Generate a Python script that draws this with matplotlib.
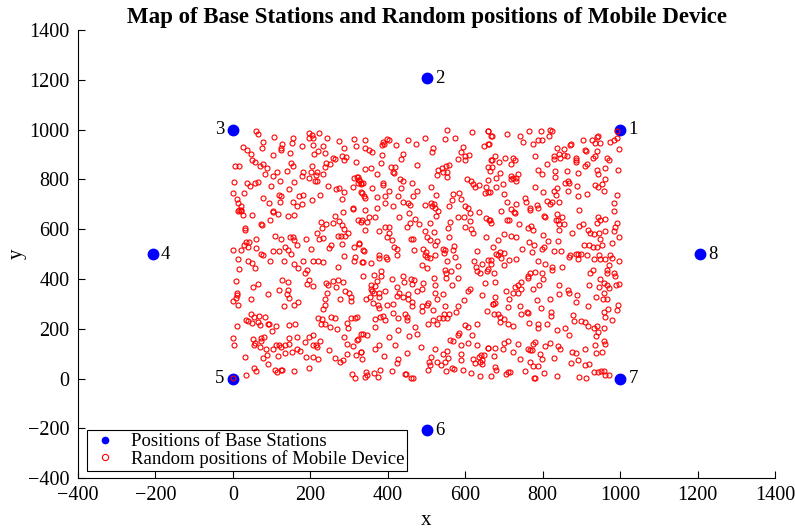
import numpy as np
import matplotlib
matplotlib.use('Agg')
import matplotlib.pyplot as plt

# Base station positions and their numbers
bs_x = [1000, 500, 0, -207, 0, 500, 1000, 1207]
bs_y = [1000, 1207, 1000, 500, 0, -207, 0, 500]
bs_labels = ['1', '2', '3', '4', '5', '6', '7', '8']
# which side of the dot the number sits on
bs_side = ['r', 'r', 'l', 'r', 'l', 'r', 'r', 'r']

# Mobile device positions (x, y)
mobile_xy = [
    (61, 993), (65, 982), (107, 971), (156, 966), (152, 948), (127, 944), (196, 987), (204, 979),
    (196, 968), (208, 968), (223, 985), (242, 968), (275, 955), (313, 963), (77, 952), (27, 931),
    (37, 920), (75, 926), (124, 926), (124, 920), (178, 935), (208, 939), (232, 936), (219, 915),
    (210, 902), (286, 926), (318, 935), (47, 902), (103, 897), (147, 906), (237, 907), (283, 896),
    (292, 891), (259, 888), (264, 883), (287, 880), (49, 877), (56, 871), (78, 861), (70, 853),
    (87, 845), (151, 868), (156, 853), (240, 867), (252, 861), (237, 851), (204, 856), (318, 872),
    (6, 855), (15, 853), (113, 832), (140, 835), (180, 832), (201, 832), (216, 832), (232, 824),
    (214, 818), (178, 814), (82, 824), (103, 813), (196, 808), (314, 804), (321, 810), (325, 797),
    (323, 784), (309, 770), (332, 784), (2, 788), (37, 786), (44, 774), (58, 785), (65, 789),
    (98, 774), (121, 794), (159, 789), (213, 792), (216, 794), (245, 774), (266, 761), (275, 764),
    (288, 748), (144, 761), (1, 745), (30, 745), (10, 721), (13, 707), (20, 693), (15, 677),
    (22, 674), (77, 725), (94, 706), (118, 738), (124, 733), (121, 711), (156, 711), (170, 733),
    (182, 737), (165, 693), (178, 703), (204, 717), (225, 738), (283, 721), (309, 687), (309, 682),
    (330, 748), (104, 671), (285, 669),
    (554, 998), (618, 990), (659, 995), (666, 976), (340, 958), (387, 952), (390, 942), (397, 963),
    (402, 958), (385, 939), (421, 939), (452, 958), (473, 944), (497, 966), (547, 963), (573, 966),
    (595, 931), (648, 936), (660, 942), (342, 926), (351, 920), (359, 910), (385, 899), (438, 904),
    (435, 883), (516, 926), (514, 910), (588, 912), (600, 896), (609, 899), (580, 883), (599, 877),
    (666, 880), (382, 867), (475, 859), (342, 843), (356, 848), (409, 851), (418, 851), (414, 832),
    (416, 827), (530, 840), (540, 845), (550, 856), (559, 859), (528, 818), (542, 832), (552, 829),
    (552, 810), (664, 835), (371, 821), (323, 810), (325, 797), (332, 781), (335, 784), (431, 802),
    (438, 794), (462, 784), (605, 802), (616, 792), (621, 781), (635, 776), (626, 770), (388, 786),
    (387, 776), (359, 765), (433, 765), (511, 768), (654, 768), (664, 749), (652, 744), (333, 746),
    (338, 733), (340, 727), (402, 754), (475, 754), (371, 730), (392, 733), (426, 735), (464, 733),
    (438, 711), (392, 706), (414, 693), (452, 706), (457, 698), (497, 698), (511, 706), (514, 695),
    (519, 701), (524, 738), (569, 741), (585, 746), (566, 717), (588, 722), (523, 687), (559, 695),
    (600, 693), (607, 685), (371, 687), (340, 677), (530, 674), (636, 671),
    (659, 995), (668, 976), (707, 982), (742, 974), (764, 995), (795, 993), (819, 998), (823, 993),
    (817, 976), (750, 950), (774, 942), (788, 958), (798, 958), (662, 942), (874, 942), (904, 958),
    (928, 960), (943, 976), (941, 971), (947, 947), (936, 947), (974, 952), (983, 960), (991, 966),
    (993, 993), (997, 923), (838, 926), (855, 923), (871, 939), (909, 920), (912, 915), (941, 915),
    (935, 893), (931, 888), (828, 893), (828, 883), (842, 902), (854, 899), (862, 893), (845, 885),
    (886, 888), (886, 880), (886, 872), (781, 893), (676, 896), (702, 885), (724, 888), (728, 877),
    (668, 877), (688, 869), (718, 861), (811, 864), (914, 864), (910, 853), (967, 885), (971, 880),
    (659, 851), (668, 851), (788, 837), (798, 821), (831, 835), (862, 835), (890, 827), (940, 840),
    (943, 821), (962, 845), (995, 840), (690, 827), (736, 824), (680, 808), (718, 813), (723, 805),
    (730, 808), (719, 800), (731, 794), (831, 810), (864, 794), (867, 784), (857, 784), (659, 797),
    (697, 781), (680, 770), (780, 768), (888, 773), (838, 765), (828, 754), (936, 776), (943, 768),
    (952, 781), (960, 800), (659, 749), (699, 741), (802, 748), (835, 738), (864, 752), (891, 733),
    (914, 741), (959, 754), (993, 738), (755, 727), (757, 711), (731, 703), (709, 711), (811, 714),
    (819, 703), (824, 711), (843, 711), (786, 698), (788, 685), (767, 685), (984, 706), (693, 674),
    (893, 679), (726, 669),
    (13, 674), (22, 677), (25, 658), (49, 656), (104, 672), (116, 661), (142, 653), (159, 656),
    (72, 621), (75, 618), (97, 639), (32, 605), (32, 597), (227, 631), (240, 623), (259, 626),
    (264, 653), (275, 634), (323, 637), (330, 631), (283, 618), (287, 602), (216, 586), (230, 605),
    (297, 583), (109, 573), (125, 562), (147, 570), (158, 556), (156, 570), (190, 562), (223, 562),
    (232, 564), (271, 573), (278, 573), (290, 573), (34, 548), (41, 548), (59, 559), (30, 535),
    (39, 528), (0, 516), (22, 516), (61, 524), (103, 514), (118, 511), (134, 530), (142, 516),
    (151, 500), (165, 538), (201, 519), (247, 524), (254, 535), (283, 540), (314, 530), (325, 543),
    (72, 500), (78, 495), (287, 492), (316, 490), (313, 473), (333, 468), (13, 479), (39, 473),
    (49, 465), (58, 444), (96, 471), (132, 471), (158, 460), (168, 444), (182, 471), (206, 473),
    (220, 471), (233, 468), (271, 449), (15, 439), (192, 436), (187, 425), (8, 393), (51, 366),
    (66, 380), (127, 398), (142, 390), (196, 396), (192, 380), (206, 372), (240, 382), (245, 377),
    (258, 393), (271, 396), (266, 366), (285, 388), (118, 356), (142, 356), (140, 340), (92, 340),
    (10, 342), (11, 334), (244, 342), (289, 350), (299, 342),
    (351, 650), (366, 648), (333, 637), (347, 629), (428, 648), (456, 664), (469, 640), (457, 626),
    (480, 623), (509, 626), (524, 653), (561, 631), (581, 650), (597, 650), (611, 664), (612, 634),
    (654, 645), (664, 639), (666, 626), (342, 599), (378, 591), (392, 610), (402, 610), (402, 583),
    (397, 570), (411, 556), (449, 610), (495, 594), (519, 589), (500, 567), (509, 556), (528, 554),
    (523, 538), (459, 562), (466, 562), (557, 570), (555, 605), (600, 610), (616, 602), (621, 583),
    (654, 567), (326, 540), (416, 530), (425, 522), (425, 498), (468, 516), (492, 519), (499, 508),
    (495, 498), (502, 487), (509, 484), (521, 498), (543, 522), (549, 516), (545, 506), (571, 532),
    (569, 516), (573, 490), (554, 471), (335, 516), (338, 511), (378, 498), (378, 484), (395, 487),
    (399, 479), (357, 463), (335, 468), (630, 511), (623, 473), (643, 460), (628, 449), (631, 431),
    (657, 433), (666, 476), (659, 441), (488, 455), (502, 444), (549, 436), (550, 425), (564, 433),
    (581, 452), (382, 433), (364, 415), (337, 412), (371, 393), (383, 412), (411, 401), (438, 412),
    (442, 388), (461, 401), (468, 398), (490, 385), (519, 404), (550, 406), (581, 406), (638, 423),
    (357, 374), (366, 372), (357, 361), (359, 353), (364, 342), (378, 342), (394, 353), (425, 369),
    (428, 342), (452, 340), (462, 380), (488, 361), (476, 350), (521, 374), (523, 342), (542, 340),
    (566, 374), (611, 358), (607, 350), (650, 382),
    (719, 682), (728, 666), (767, 677), (804, 653), (805, 648), (836, 661), (850, 650), (833, 639),
    (840, 639), (843, 621), (854, 621), (984, 674), (943, 648), (947, 639), (960, 642), (940, 626),
    (993, 626), (986, 610), (983, 591), (662, 639), (707, 637), (714, 639), (738, 621), (762, 607),
    (771, 615), (776, 599), (842, 597), (905, 621), (893, 615), (916, 599), (921, 586), (933, 581),
    (945, 583), (948, 559), (962, 594), (997, 567), (700, 581), (719, 573), (731, 570), (800, 575),
    (876, 583), (685, 556), (764, 548), (778, 538), (814, 551), (840, 551), (907, 538), (919, 538),
    (931, 527), (940, 527), (952, 535), (978, 546), (671, 530), (747, 519), (773, 508), (797, 522),
    (804, 527), (828, 511), (847, 511), (680, 500), (690, 508), (699, 506), (685, 495), (693, 484),
    (712, 476), (731, 481), (867, 490), (871, 498), (886, 500), (891, 500), (898, 500), (914, 498),
    (890, 479), (933, 479), (945, 495), (947, 479), (962, 479), (974, 498), (979, 484), (998, 473),
    (659, 476), (666, 460), (700, 457), (788, 473), (805, 460), (824, 449), (823, 436), (850, 447),
    (674, 425), (931, 436), (922, 425), (972, 457), (967, 436), (967, 423), (983, 423), (986, 412),
    (766, 423), (780, 428), (798, 423), (800, 401), (761, 412), (762, 404), (745, 388), (735, 374),
    (728, 369), (743, 361), (736, 342), (724, 342), (676, 388), (705, 350), (774, 358), (790, 374),
    (843, 377), (866, 356), (869, 342), (888, 337), (919, 377), (945, 369), (947, 401), (959, 382),
    (966, 374), (972, 364), (990, 374), (998, 380), (957, 345),
    (8, 323), (0, 310), (13, 296), (47, 320), (144, 323), (168, 307), (158, 296), (132, 291),
    (237, 318), (276, 320), (304, 326), (306, 310), (239, 296), (232, 280), (47, 259), (54, 248),
    (68, 251), (82, 248), (35, 237), (39, 232), (49, 224), (65, 226), (70, 216), (90, 218),
    (94, 218), (111, 213), (144, 216), (161, 218), (10, 210), (101, 192), (220, 243), (230, 240),
    (228, 221), (239, 218), (252, 208), (254, 248), (264, 245), (295, 224), (270, 200), (297, 202),
    (306, 243), (316, 245), (320, 248), (332, 181), (1, 162), (3, 135), (51, 157), (72, 162),
    (80, 168), (72, 152), (58, 143), (54, 133), (70, 125), (85, 119), (103, 117), (111, 135),
    (118, 133), (125, 127), (134, 133), (146, 162), (146, 138), (166, 168), (196, 168), (206, 173),
    (187, 146), (208, 133), (214, 133), (218, 125), (225, 149), (134, 101), (154, 106), (166, 119),
    (173, 111), (247, 114), (287, 168), (294, 138), (309, 130), (320, 154), (89, 93), (78, 82),
    (116, 90), (32, 87), (189, 85), (208, 85), (221, 79), (263, 82), (276, 68), (285, 74),
    (294, 98), (318, 95), (330, 106), (92, 58), (54, 44), (61, 31), (109, 34), (115, 26),
    (125, 36), (128, 34), (159, 31), (197, 42), (34, 15), (1, 4), (307, 20), (316, 4),
    (344, 318), (354, 328), (378, 326), (363, 304), (376, 296), (378, 285), (399, 296), (413, 301),
    (425, 331), (438, 328), (452, 318), (462, 307), (462, 291), (528, 318), (488, 293), (500, 296),
    (504, 304), (488, 272), (518, 275), (549, 293), (581, 291), (597, 315), (643, 334), (655, 272),
    (671, 299), (413, 264), (444, 259), (450, 248), (450, 237), (394, 237), (380, 248), (387, 251),
    (368, 240), (426, 243), (516, 235), (533, 243), (543, 245), (545, 259), (557, 261), (576, 267),
    (504, 221), (528, 218), (552, 243), (366, 208), (426, 194), (471, 208), (476, 181), (454, 170),
    (402, 165), (337, 181), (347, 173), (323, 160), (599, 216), (607, 208), (630, 218), (585, 184),
    (581, 173), (617, 176), (561, 154), (568, 152), (590, 135), (607, 141), (631, 135), (660, 122),
    (378, 135), (368, 119), (418, 135), (487, 125), (521, 117), (330, 106), (333, 79), (390, 90),
    (426, 77), (449, 101), (512, 87), (542, 98), (552, 111), (555, 82), (590, 98), (619, 79),
    (624, 63), (635, 85), (640, 95), (648, 95), (643, 74), (638, 66), (642, 58), (423, 63),
    (507, 66), (509, 55), (526, 66), (549, 66), (537, 55), (590, 74), (566, 42), (571, 39),
    (504, 34), (550, 31), (595, 36), (614, 23), (638, 10), (344, 26), (347, 15), (364, 23),
    (380, 34), (376, 7), (340, 7), (411, 31), (444, 18), (447, 18), (461, 4), (466, 2),
    (667, 10),
    (676, 328), (712, 318), (671, 301), (676, 304), (711, 288), (742, 291), (785, 315), (819, 318),
    (795, 285), (843, 339), (886, 307), (916, 291), (938, 326), (955, 318), (967, 318), (995, 296),
    (969, 280), (993, 277), (674, 259), (685, 259), (690, 248), (699, 240), (690, 229), (711, 221),
    (723, 210), (745, 259), (759, 269), (762, 264), (764, 224), (788, 221), (788, 202), (812, 221),
    (821, 269), (821, 251), (838, 194), (857, 202), (869, 173), (879, 256), (881, 232), (898, 232),
    (909, 229), (917, 213), (933, 205), (941, 210), (959, 267), (960, 248), (978, 235), (959, 202),
    (943, 186), (938, 170), (659, 122), (676, 122), (697, 119), (700, 141), (711, 149), (723, 106),
    (735, 138), (673, 90), (762, 117), (767, 114), (773, 114), (774, 138), (781, 146), (805, 130),
    (819, 143), (840, 130), (845, 119), (793, 98), (797, 77), (742, 77), (828, 82), (876, 106),
    (885, 103), (909, 117), (935, 133), (938, 101), (957, 149), (962, 138), (953, 106), (873, 63),
    (891, 74), (910, 55), (919, 58), (767, 66), (776, 52), (788, 50), (754, 31), (676, 47),
    (680, 36), (704, 18), (711, 26), (716, 26), (804, 23), (778, 4), (780, 2), (838, 12),
    (893, 7), (933, 28), (943, 26), (950, 31), (959, 31), (960, 15), (971, 15), (912, 2),
]
mobile_x = [p[0] for p in mobile_xy]
mobile_y = [p[1] for p in mobile_xy]

plt.rcParams['font.family'] = ['Liberation Serif', 'DejaVu Serif']

fig = plt.figure(figsize=(7.95, 5.3), dpi=100)
ax = fig.add_axes([0.098, 0.098, 0.877, 0.845])

ax.plot(bs_x, bs_y, 'o', color='#0000ff', markersize=7.5, linestyle='none',
        label='Positions of Base Stations', zorder=2)
ax.plot(mobile_x, mobile_y, 'o', markerfacecolor='none', markeredgecolor='#ff0000',
        markersize=3.6, markeredgewidth=0.8, linestyle='none',
        label='Random positions of Mobile Device', zorder=3)

for x, y, lab, side in zip(bs_x, bs_y, bs_labels, bs_side):
    if side == 'r':
        ax.annotate(lab, (x, y), xytext=(6, 0), textcoords='offset points',
                    ha='left', va='center', fontsize=13.5)
    else:
        ax.annotate(lab, (x, y), xytext=(-6, 0), textcoords='offset points',
                    ha='right', va='center', fontsize=13.5)

ax.set_xlim(-400, 1400)
ax.set_ylim(-400, 1400)
ax.set_xticks(np.arange(-400, 1401, 200))
ax.set_yticks(np.arange(-400, 1401, 200))
ax.tick_params(direction='in', length=5, width=0.8, labelsize=14.5, pad=6)
ax.spines['top'].set_visible(False)
ax.spines['right'].set_visible(False)

ax.set_xlabel('x', fontsize=15, labelpad=4)
ax.set_ylabel('y', fontsize=15, labelpad=1)
ax.set_title('Map of Base Stations and Random positions of Mobile Device',
             fontsize=16.5, fontweight='bold', pad=5)

leg = ax.legend(loc='upper left', bbox_to_anchor=(0.013, 0.107), fontsize=13.5,
                fancybox=False, edgecolor='black', framealpha=1,
                borderaxespad=0, borderpad=0.15, labelspacing=0.0,
                handletextpad=0.6, handlelength=1.6)
leg.get_frame().set_linewidth(0.8)
leg.legend_handles[0].set_markersize(4.5)
leg.legend_handles[1].set_markersize(4.5)

fig.savefig('out.png', dpi=100)
